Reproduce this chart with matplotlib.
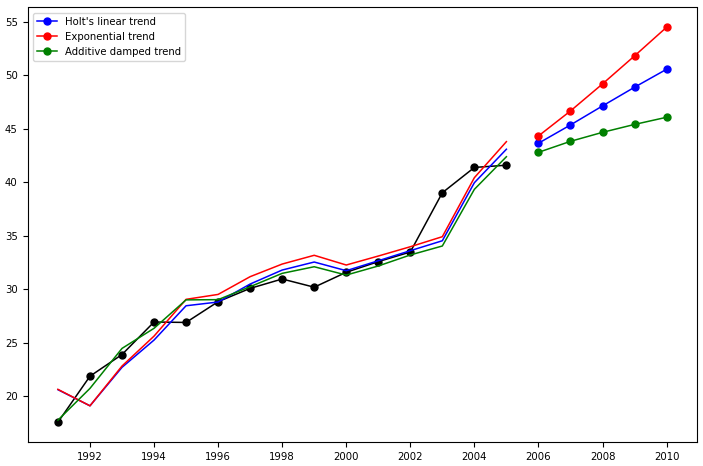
import matplotlib
matplotlib.use("Agg")
import matplotlib.pyplot as plt

years = [1991, 1992, 1993, 1994, 1995, 1996, 1997, 1998, 1999, 2000,
         2001, 2002, 2003, 2004, 2005]
air = [17.5534, 21.8601, 23.8866, 26.9293, 26.8885, 28.8314, 30.0751,
       30.9535, 30.1857, 31.5797, 32.5776, 33.4774, 39.0216, 41.3864, 41.5966]

holt_fit = [20.60, 19.09, 22.69, 25.24, 28.45, 28.80, 30.48, 31.79, 32.54,
            31.73, 32.66, 33.60, 34.53, 39.96, 43.09]
exp_fit = [20.63, 19.09, 22.81, 25.61, 29.05, 29.51, 31.17, 32.35, 33.17,
           32.26, 33.10, 33.97, 34.91, 40.43, 43.80]
damp_fit = [17.75, 20.72, 24.46, 26.34, 29.00, 29.02, 30.23, 31.48, 32.10,
            31.32, 32.17, 33.20, 34.04, 39.34, 42.39]

fc_years = [2006, 2007, 2008, 2009, 2010]
holt_fc = [43.65, 45.36, 47.14, 48.89, 50.57]
exp_fc = [44.33, 46.67, 49.20, 51.82, 54.50]
damp_fc = [42.80, 43.83, 44.67, 45.41, 46.08]

W, H, DPI = 703, 466, 100
plt.rcParams['font.size'] = 7.3
fig = plt.figure(figsize=(W / DPI, H / DPI), dpi=DPI)
ax = fig.add_axes([27.5 / W, 1 - 442 / H, (697 - 27.5) / W, (442 - 7.5) / H])

lw, ms = 1.1, 5
ax.plot(years, air, color='black', marker='o', lw=lw, ms=ms)
ax.plot(years, holt_fit, color='blue', lw=lw)
ax.plot(fc_years, holt_fc, color='blue', marker='o', lw=lw, ms=ms, label="Holt's linear trend")
ax.plot(years, exp_fit, color='red', lw=lw)
ax.plot(fc_years, exp_fc, color='red', marker='o', lw=lw, ms=ms, label="Exponential trend")
ax.plot(years, damp_fit, color='green', lw=lw)
ax.plot(fc_years, damp_fc, color='green', marker='o', lw=lw, ms=ms, label="Additive damped trend")

ax.set_xticks(list(range(1992, 2011, 2)))
ax.set_yticks([20, 25, 30, 35, 40, 45, 50, 55])
ax.legend(loc='upper left')
fig.savefig('out.png', dpi=DPI)
